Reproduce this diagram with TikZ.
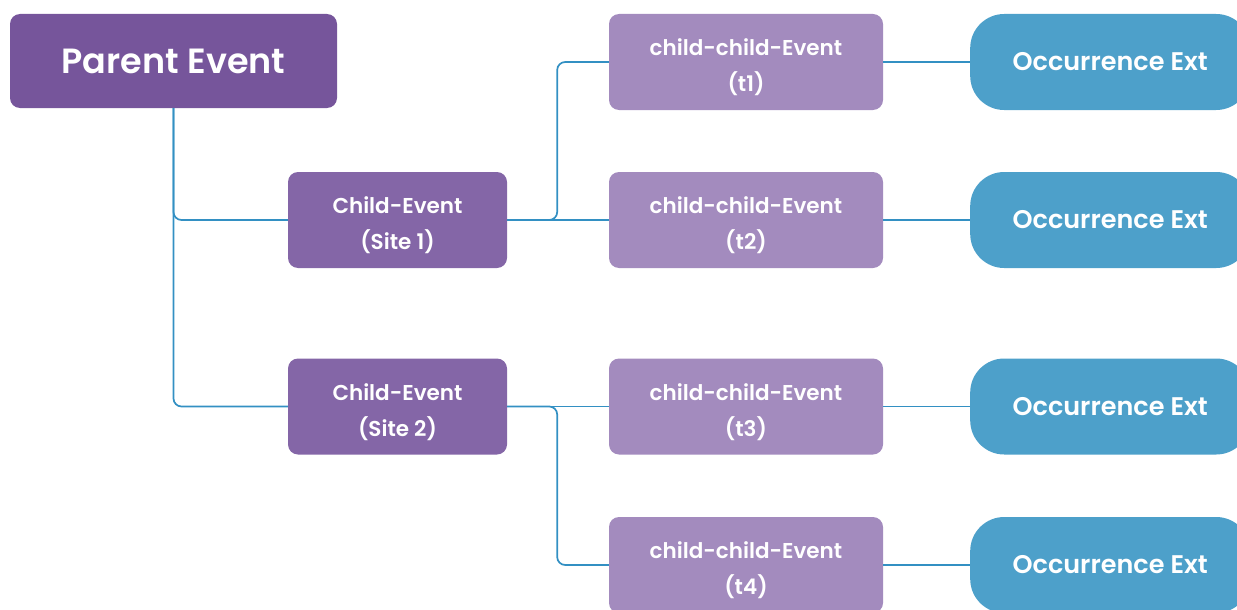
\documentclass[tikz,border=0pt]{standalone}
\usepackage{fontspec}
\setmainfont{Poppins}[UprightFont={* SemiBold}]
\usepackage{xcolor}
\usetikzlibrary{positioning}

\definecolor{parentcol}{HTML}{76559B}
\definecolor{childcol}{HTML}{8466A7}
\definecolor{gchildcol}{HTML}{A38BBE}
\definecolor{occcol}{HTML}{4DA0CA}
\definecolor{linkcol}{HTML}{3390C3}

% strut to push two-line labels a bit lower
\newcommand{\tstrut}{\rule{0pt}{28pt}}

\begin{document}
\begin{tikzpicture}[
  x=1pt, y=-1pt,
  parentbox/.style={rectangle, fill=parentcol, rounded corners=10pt, minimum width=327pt, minimum height=94pt, text=white, font=\fontsize{35}{38}\selectfont},
  twoline/.style={align=center, font=\fontsize{21.5}{36}\selectfont},
  childbox/.style={rectangle, fill=childcol, rounded corners=10pt, minimum width=219pt, minimum height=96pt, text=white, twoline},
  gchildbox/.style={rectangle, fill=gchildcol, rounded corners=10pt, minimum width=274pt, minimum height=96pt, text=white, twoline},
  occbox/.style={rectangle, fill=occcol, rounded corners=34pt, minimum width=280pt, minimum height=96pt, text=white, font=\fontsize{25.5}{28}\selectfont},
  link/.style={draw=linkcol, line width=1.7pt, rounded corners=8pt}
]
\useasboundingbox (0,0) rectangle (1237,610);
\clip (0,0) rectangle (1237,610);
% Parent
\node[parentbox] (parent) at (173.5, 61) {Parent Event};
% Children (sites)
\node[childbox] (site1) at (397.5, 220) {\tstrut Child-Event\\(Site 1)};
\node[childbox] (site2) at (397.5, 406.5) {\tstrut Child-Event\\(Site 2)};
% Grandchildren
\node[gchildbox] (t1) at (746, 62) {\tstrut child-child-Event\\(t1)};
\node[gchildbox] (t2) at (746, 220) {\tstrut child-child-Event\\(t2)};
\node[gchildbox] (t3) at (746, 406.5) {\tstrut child-child-Event\\(t3)};
\node[gchildbox] (t4) at (746, 565) {\tstrut child-child-Event\\(t4)};
% Occurrence extensions
\node[occbox, anchor=west] (occ1) at (970, 62) {Occurrence Ext};
\node[occbox, anchor=west] (occ2) at (970, 220) {Occurrence Ext};
\node[occbox, anchor=west] (occ3) at (970, 406.5) {Occurrence Ext};
\node[occbox, anchor=west] (occ4) at (970, 565) {Occurrence Ext};
% Parent to sites
\draw[link] (parent.south) |- (site1.west);
\draw[link] (parent.south) |- (site2.west);
% Sites to grandchildren
\draw[link] (site1.east) -- (t2.west);
\draw[link] (site1.east) -- ++(50,0) |- (t1.west);
\draw[link] (site2.east) -- (t3.west);
\draw[link] (site2.east) -- ++(50,0) |- (t4.west);
% Grandchildren to occurrences
\foreach \i in {1,...,4}
  \draw[link] (t\i.east) -- (occ\i.west);
\end{tikzpicture}
\end{document}
